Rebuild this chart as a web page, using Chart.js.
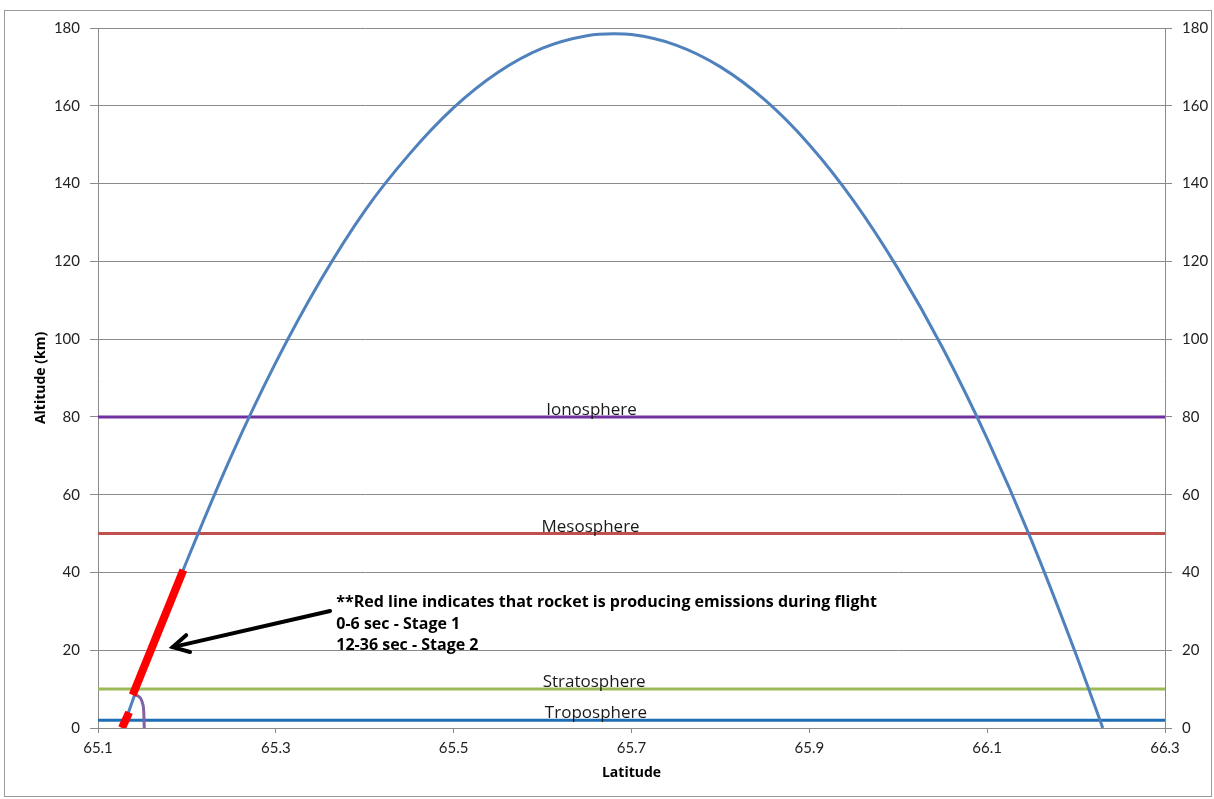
<!DOCTYPE html>
<html>
<head>
<meta charset="utf-8">
<script src="https://cdn.jsdelivr.net/npm/chart.js@4.4.1/dist/chart.umd.min.js"></script>
<style>
html, body { margin: 0; padding: 0; background: #fff; }
</style>
</head>
<body>
<canvas id="trayectoria" width="1214" height="799"></canvas>
<script>
// Trayectoria del cohete (latitud, altitud en km)
const latitudes = [65.128, 65.15, 65.2, 65.25, 65.3, 65.35, 65.4, 65.45, 65.5, 65.55, 65.6, 65.65, 65.68,
    65.7, 65.75, 65.8, 65.85, 65.9, 65.95, 66.0, 66.05, 66.1, 66.15, 66.2, 66.23];
const altitudes = [0, 14, 43, 70, 94, 115, 133, 147.5, 159.5, 168.6, 174.8, 178, 178.5,
    178.3, 175.6, 170, 161.5, 150, 135.5, 118, 97.7, 74.4, 48.2, 18.9, 0];

// Tramos con emisiones (rojo)
const stage1Lat = [65.127, 65.135];
const stage1Alt = [0, 4];
const stage2Lat = [65.139, 65.196];
const stage2Alt = [8.5, 40.6];

// Caída de la primera etapa (morado)
const fallLat = [65.1393, 65.145, 65.150, 65.1515, 65.152];
const fallAlt = [8.5, 8.2, 6.4, 3.9, 0];

// Capas atmosféricas
const layerNames = ['Ionosphere', 'Mesosphere', 'Stratosphere', 'Troposphere'];
const layerAltitudes = [80, 50, 10, 2];
const layerColors = ['#7030a0', '#c0504d', '#9bbb59', '#1f6db5'];
const layerLabelLat = [65.655, 65.654, 65.658, 65.66];

// Ejes
const xTicks = [65.1, 65.3, 65.5, 65.7, 65.9, 66.1, 66.3];
const yTicks = [0, 20, 40, 60, 80, 100, 120, 140, 160, 180];

// Nota y flecha
const noteLines = ['**Red line indicates that rocket is producing emissions during flight',
    '0-6 sec - Stage 1', '12-36 sec - Stage 2'];
const noteLat = 65.368;
const noteAlts = [32.2, 26.7, 21.3];
const arrowFrom = [65.361, 30.1];
const arrowTo = [65.184, 20.8];

const gris = '#8a8a8a';
const fuente = 'Lato, "Open Sans", sans-serif';
const fuenteTexto = '"Open Sans", Lato, sans-serif';

const toPoints = (xs, ys) => xs.map((x, i) => ({ x: x, y: ys[i] }));

// order: el valor más bajo se dibuja encima
const datasets = layerAltitudes.map((alt, i) => ({
    label: layerNames[i],
    data: [{ x: xTicks[0], y: alt }, { x: xTicks[xTicks.length - 1], y: alt }],
    borderColor: layerColors[i],
    borderWidth: 3,
    pointRadius: 0,
    order: 4
}));
datasets.push({
    label: 'Trajectory',
    data: toPoints(latitudes, altitudes),
    borderColor: '#4f81bd',
    borderWidth: 3,
    pointRadius: 0,
    cubicInterpolationMode: 'monotone',
    order: 3
});
datasets.push({
    label: 'Stage 1 fall',
    data: toPoints(fallLat, fallAlt),
    borderColor: '#8064a2',
    borderWidth: 3,
    pointRadius: 0,
    cubicInterpolationMode: 'monotone',
    order: 2
});
datasets.push({
    label: 'Stage 1',
    data: toPoints(stage1Lat, stage1Alt),
    borderColor: '#ff0000',
    borderWidth: 8,
    borderCapStyle: 'butt',
    pointRadius: 0,
    order: 1
});
datasets.push({
    label: 'Stage 2',
    data: toPoints(stage2Lat, stage2Alt),
    borderColor: '#ff0000',
    borderWidth: 8,
    borderCapStyle: 'butt',
    pointRadius: 0,
    order: 1
});

// Textos, flecha y marco
const anotaciones = {
    id: 'anotaciones',
    beforeDraw(chart) {
        const c = chart.ctx;
        c.save();
        c.fillStyle = '#fff';
        c.fillRect(0, 0, chart.width, chart.height);
        c.restore();
    },
    afterDatasetsDraw(chart) {
        const c = chart.ctx;
        const sx = chart.scales.x, sy = chart.scales.y;
        c.save();
        c.fillStyle = '#1a1a1a';
        c.font = '17px ' + fuenteTexto;
        c.textAlign = 'center';
        c.textBaseline = 'alphabetic';
        layerNames.forEach((name, i) => {
            c.fillText(name, sx.getPixelForValue(layerLabelLat[i]), sy.getPixelForValue(layerAltitudes[i]) - 2);
        });

        c.font = 'bold 16px ' + fuenteTexto;
        c.textAlign = 'left';
        c.textBaseline = 'middle';
        c.fillStyle = '#000';
        noteLines.forEach((t, i) => {
            c.fillText(t, sx.getPixelForValue(noteLat), sy.getPixelForValue(noteAlts[i]));
        });

        const x0 = sx.getPixelForValue(arrowFrom[0]), y0 = sy.getPixelForValue(arrowFrom[1]);
        const x1 = sx.getPixelForValue(arrowTo[0]), y1 = sy.getPixelForValue(arrowTo[1]);
        const ang = Math.atan2(y1 - y0, x1 - x0);
        c.strokeStyle = '#000';
        c.lineWidth = 4;
        c.lineCap = 'round';
        c.beginPath();
        c.moveTo(x0, y0);
        c.lineTo(x1, y1);
        c.stroke();
        c.beginPath();
        c.moveTo(x1 - 18 * Math.cos(ang - 0.5), y1 - 18 * Math.sin(ang - 0.5));
        c.lineTo(x1, y1);
        c.lineTo(x1 - 18 * Math.cos(ang + 0.5), y1 - 18 * Math.sin(ang + 0.5));
        c.stroke();
        c.restore();
    },
    afterDraw(chart) {
        const c = chart.ctx;
        c.save();
        c.strokeStyle = '#9a9a9a';
        c.lineWidth = 1;
        c.strokeRect(4.5, 10.5, 1207, 786);
        c.restore();
    }
};

const setTicks = (lista) => (scale) => { scale.ticks = lista.map(v => ({ value: v })); };

const ctx = document.getElementById('trayectoria');
new Chart(ctx, {
    type: 'line',
    data: { datasets: datasets },
    plugins: [anotaciones],
    options: {
        responsive: false,
        animation: false,
        devicePixelRatio: 1,
        layout: { padding: { top: 28, left: 0, right: 0, bottom: 0 } },
        plugins: {
            legend: { display: false },
            tooltip: { enabled: false }
        },
        scales: {
            x: {
                type: 'linear',
                min: 65.1,
                max: 66.3,
                afterBuildTicks: setTicks(xTicks),
                afterFit(scale) { scale.height = 71; },
                grid: { drawOnChartArea: false, drawTicks: true, tickLength: 5, color: gris },
                border: { color: gris, width: 1 },
                ticks: {
                    padding: 6,
                    color: '#222',
                    font: { family: fuente, size: 15 },
                    maxRotation: 0,
                    callback: (v) => v.toFixed(1)
                },
                title: {
                    display: true,
                    text: 'Latitude',
                    color: '#000',
                    font: { family: fuenteTexto, size: 14, weight: 'bold' },
                    padding: { top: 18, bottom: 18 }
                }
            },
            y: {
                position: 'left',
                min: 0,
                max: 180,
                afterBuildTicks: setTicks(yTicks),
                afterFit(scale) { scale.width = 98; },
                grid: { color: gris, tickLength: 8, lineWidth: 1 },
                border: { color: gris, width: 1 },
                ticks: {
                    padding: 10,
                    color: '#222',
                    font: { family: fuente, size: 15 }
                },
                title: {
                    display: true,
                    text: 'Altitude (km)',
                    color: '#000',
                    font: { family: fuenteTexto, size: 14, weight: 'bold' },
                    padding: { top: 33, bottom: 33 }
                }
            },
            y2: {
                position: 'right',
                min: 0,
                max: 180,
                afterBuildTicks: setTicks(yTicks),
                afterFit(scale) { scale.width = 49; },
                grid: { drawOnChartArea: false, color: gris, tickLength: 7 },
                border: { color: gris, width: 1 },
                ticks: {
                    padding: 10,
                    color: '#222',
                    font: { family: fuente, size: 15 }
                }
            }
        }
    }
});
</script>
</body>
</html>
